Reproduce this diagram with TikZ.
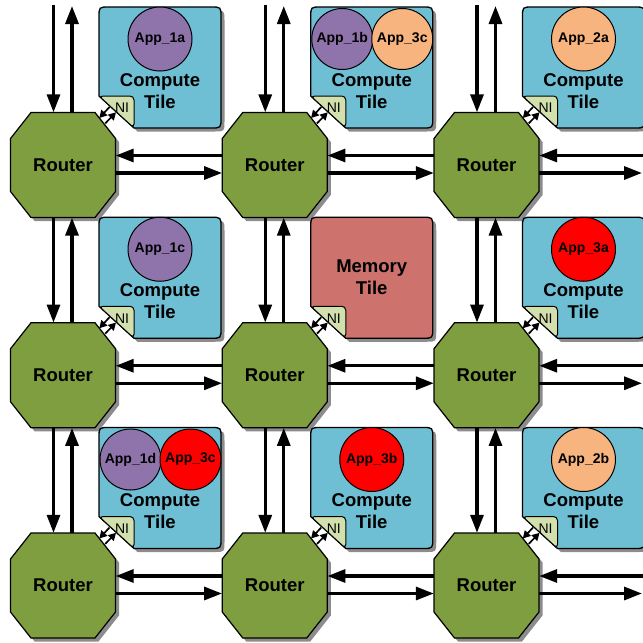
\documentclass[tikz,border=0pt]{standalone}
\usepackage{fontspec}
\setmainfont{Liberation Sans}
\usetikzlibrary{arrows.meta,shadows}

\definecolor{tileblue}{HTML}{6FBFD4}
\definecolor{memred}{HTML}{CD726C}
\definecolor{routergreen}{HTML}{7E9E3F}
\definecolor{nigreen}{HTML}{D2E0AE}
\definecolor{apppurple}{HTML}{8F74AC}
\definecolor{apporange}{HTML}{F8B47F}
\definecolor{appred}{HTML}{FF0000}

\tikzset{
  castshadow/.style={drop shadow={shadow xshift=3.5pt, shadow yshift=-3.5pt, fill=black, opacity=0.45}},
  routerbody/.style={fill=routergreen, draw=black, line width=1.2pt, castshadow},
  routerlabel/.style={rectangle, minimum width=105pt, minimum height=105pt, inner sep=0pt,
    font=\bfseries\fontsize{18.5}{20}\selectfont},
  tilebody/.style={draw=black, line width=1.3pt, castshadow},
  niface/.style={fill=nigreen, draw=black, line width=1pt, rounded corners=4pt},
  nilabel/.style={inner sep=0pt, font=\fontsize{14}{15}\selectfont},
  app/.style={circle, draw=black, line width=1pt, minimum size=#1, inner sep=0pt,
    font=\bfseries\fontsize{14}{15}\selectfont},
  tilelabel/.style={align=center, inner sep=0pt, font=\bfseries\fontsize{18.5}{22}\selectfont},
  link/.style={line width=3.2pt, -{Triangle[length=18pt,width=13pt]}},
  nilink/.style={line width=1.7pt, -{Triangle[length=7.5pt,width=8pt]}},
}

\begin{document}
\begin{tikzpicture}[x=1pt,y=-1pt]
\useasboundingbox (0,0) rectangle (643,643);
\clip (0,0) rectangle (643,643);

% tiles with their network interfaces
\foreach \i in {0,1,2}{
  \foreach \j in {0,1,2}{
    \pgfmathsetmacro\cx{63+211.75*\i}
    \pgfmathsetmacro\cy{165+210.25*\j}
    \edef\tilefill{\ifnum\i\j=11 memred\else tileblue\fi}
    \begin{scope}[shift={(\cx,\cy)}]
      \filldraw[tilebody, fill=\tilefill]
        (36,-69) -- (36,-148) .. controls (36,-158) .. (46,-158)
        -- (148,-158) .. controls (158,-158) .. (158,-148)
        -- (158,-47) .. controls (158,-37) .. (148,-37)
        -- (71,-37) -- cycle;
      \filldraw[niface] (36,-69) -- (71,-69) -- (71,-37) -- cycle;
      \node[nilabel] (ni\i\j) at (59,-57) {NI};
      \coordinate (nitx\i\j) at (46.5,-58);
      \coordinate (rtrx\i\j) at (36.3,-47);
      \coordinate (rttx\i\j) at (42.2,-41.6);
      \coordinate (nirx\i\j) at (53,-52.7);
    \end{scope}
  }
}

% routers
\foreach \i in {0,1,2}{
  \foreach \j in {0,1,2}{
    \pgfmathsetmacro\cx{63+211.75*\i}
    \pgfmathsetmacro\cy{165+210.25*\j}
    \begin{scope}[shift={(\cx,\cy)}]
      \filldraw[routerbody] (-32,-52.5) -- (32,-52.5) -- (52.5,-26.5) -- (52.5,26.5)
        -- (32,52.5) -- (-32,52.5) -- (-52.5,26.5) -- (-52.5,-26.5) -- cycle;
      \node[routerlabel] (r\i\j) at (0,0) {Router};
    \end{scope}
  }
}

% applications
\node[app=64pt, fill=apppurple] (a1a) at (160,39) {App\_1a};
\node[app=61pt, fill=apppurple] (a1b) at (342.25,39) {App\_1b};
\node[app=61pt, fill=apporange] (a3c) at (402.25,39) {App\_3c};
\node[app=64pt, fill=apporange] (a2a) at (583.5,39) {App\_2a};
\node[app=64pt, fill=apppurple] (a1c) at (160,249.25) {App\_1c};
\node[app=64pt, fill=appred] (a3a) at (583.5,249.25) {App\_3a};
\node[app=61pt, fill=apppurple] (a1d) at (130.5,459.5) {App\_1d};
\node[app=61pt, fill=appred] (a3cb) at (190.5,459.5) {App\_3c};
\node[app=64pt, fill=appred] (a3b) at (371.75,459.5) {App\_3b};
\node[app=64pt, fill=apporange] (a2b) at (583.5,459.5) {App\_2b};

% tile captions
\node[tilelabel] (t00) at (160,91) {Compute\\Tile};
\node[tilelabel] (t10) at (371.75,91) {Compute\\Tile};
\node[tilelabel] (t20) at (583.5,91) {Compute\\Tile};
\node[tilelabel] (t01) at (160,301.25) {Compute\\Tile};
\node[tilelabel] (t11) at (371.75,277.25) {Memory\\Tile};
\node[tilelabel] (t21) at (583.5,301.25) {Compute\\Tile};
\node[tilelabel] (t02) at (160,511.5) {Compute\\Tile};
\node[tilelabel] (t12) at (371.75,511.5) {Compute\\Tile};
\node[tilelabel] (t22) at (583.5,511.5) {Compute\\Tile};

% interface links between each tile and its router
\foreach \i in {0,1,2}{
  \foreach \j in {0,1,2}{
    \draw[nilink] (nitx\i\j) -- (rtrx\i\j);
    \draw[nilink] (rttx\i\j) -- (nirx\i\j);
  }
}

% vertical router links
\foreach \i in {0,1,2}{
  \foreach \j in {0,1}{
    \pgfmathtruncatemacro\jj{\j+1}
    \draw[link] ([xshift=-9.5pt]r\i\j.south) -- ([xshift=-9.5pt]r\i\jj.north);
    \draw[link] ([xshift=9pt]r\i\jj.north) -- ([xshift=9pt]r\i\j.south);
  }
}

% horizontal router links
\foreach \j in {0,1,2}{
  \foreach \i in {0,1}{
    \pgfmathtruncatemacro\ii{\i+1}
    \draw[link] ([yshift=9.5pt]r\ii\j.west) -- ([yshift=9.5pt]r\i\j.east);
    \draw[link] ([yshift=-8pt]r\i\j.east) -- ([yshift=-8pt]r\ii\j.west);
  }
}

% links leaving the top edge
\foreach \i in {0,1,2}{
  \pgfmathsetmacro\cx{63+211.75*\i}
  \coordinate (topin\i) at (\cx-9.5,5);
  \coordinate (topout\i) at (\cx+9,6);
  \draw[link] (topin\i) -- ([xshift=-9.5pt]r\i0.north);
  \draw[link] ([xshift=9pt]r\i0.north) -- (topout\i);
}

% links leaving the right edge
\foreach \j in {0,1,2}{
  \pgfmathsetmacro\cy{165+210.25*\j}
  \coordinate (rightin\j) at (646,\cy-9.5);
  \coordinate (rightout\j) at (642,\cy+8);
  \draw[link] (rightin\j) -- ([yshift=9.5pt]r2\j.east);
  \draw[link] ([yshift=-8pt]r2\j.east) -- (rightout\j);
}
\end{tikzpicture}
\end{document}
